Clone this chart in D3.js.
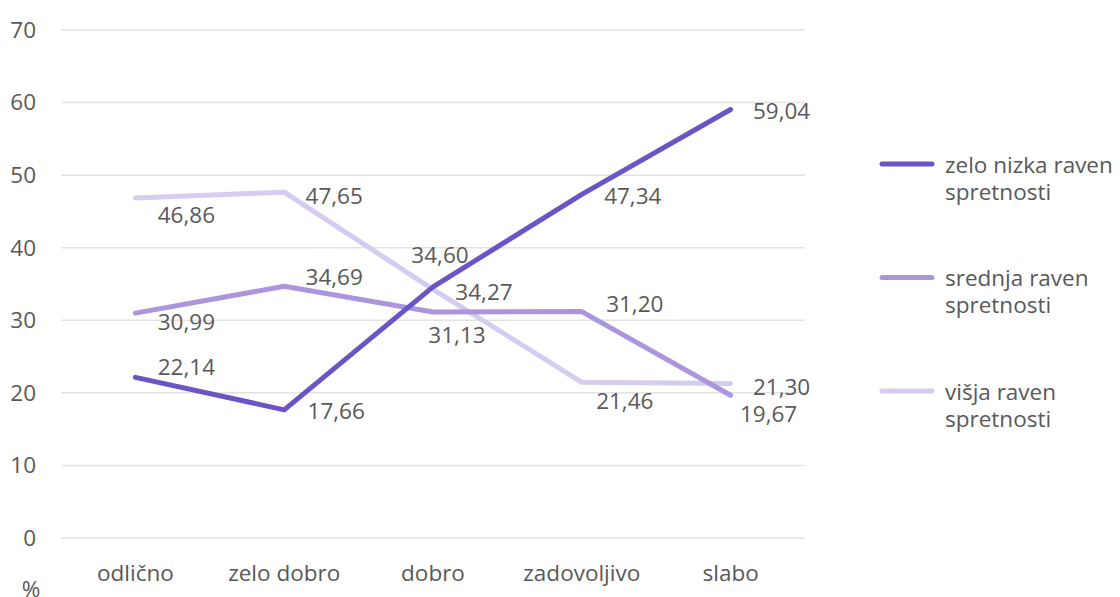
<!DOCTYPE html>
<html>
<head>
<meta charset="utf-8">
<script src="https://cdn.jsdelivr.net/npm/d3@7"></script>
<style>
  body { margin: 0; background: #fff; }
  text { font-family: "Open Sans", sans-serif; fill: #595959; }
</style>
</head>
<body>
<div id="chart"></div>
<script>
// Data
var categories = ["odlično", "zelo dobro", "dobro", "zadovoljivo", "slabo"];
var seriesNames = [
  ["zelo nizka raven", "spretnosti"],
  ["srednja raven", "spretnosti"],
  ["višja raven", "spretnosti"]
];
var zeloNizka = [22.14, 17.66, 34.60, 47.34, 59.04];
var srednja = [30.99, 34.69, 31.13, 31.20, 19.67];
var visja = [46.86, 47.65, 34.27, 21.46, 21.30];
var yTicks = [0, 10, 20, 30, 40, 50, 60, 70];

var colors = ["#6b54c4", "#ab96dd", "#d6ccef"];
var fontSize = "22.5px";

// label offsets (dx, dy) from each point, to avoid overlaps like the original
var labelOffsets = [
  [[51, -10], [52, 1], [7, -32], [51, 2], [51, 2]],
  [[51, 9], [50, -9], [24, 23], [53, -7], [38, 19]],
  [[51, 17], [50, 4], [51, 3], [43, 19], [51, 4]]
];

var width = 1120, height = 597;
var margin = { top: 30, right: 315, bottom: 59, left: 61 };

var svg = d3.select("#chart").append("svg")
  .attr("width", width)
  .attr("height", height);

var x = d3.scaleBand()
  .domain(categories)
  .range([margin.left, width - margin.right]);

var y = d3.scaleLinear()
  .domain([0, 70])
  .range([height - margin.bottom, margin.top]);

// gridlines
svg.append("g")
  .selectAll("line")
  .data(yTicks)
  .enter()
  .append("line")
  .attr("x1", margin.left)
  .attr("x2", width - margin.right)
  .attr("y1", (d) => y(d))
  .attr("y2", (d) => y(d))
  .attr("stroke", "#e3e3e3")
  .attr("stroke-width", 1.5);

// y axis labels
svg.append("g")
  .selectAll("text")
  .data(yTicks)
  .enter()
  .append("text")
  .attr("x", 36)
  .attr("y", (d) => y(d))
  .attr("dy", "0.35em")
  .attr("text-anchor", "end")
  .attr("font-size", fontSize)
  .text((d) => d);

// x axis labels
svg.append("g")
  .selectAll("text")
  .data(categories)
  .enter()
  .append("text")
  .attr("x", (d) => x(d) + x.bandwidth() / 2)
  .attr("y", 573)
  .attr("dy", "0.35em")
  .attr("text-anchor", "middle")
  .attr("font-size", fontSize)
  .text((d) => d);

// unit label
svg.append("text")
  .attr("x", 31)
  .attr("y", 589)
  .attr("dy", "0.35em")
  .attr("text-anchor", "middle")
  .attr("font-size", fontSize)
  .text("%");

var allSeries = [zeloNizka, srednja, visja];

var line = d3.line()
  .x((d, i) => x(categories[i]) + x.bandwidth() / 2)
  .y((d) => y(d));

// draw lighter series first so the dark line sits on top
[2, 1, 0].forEach(function (s) {
  svg.append("path")
    .datum(allSeries[s])
    .attr("fill", "none")
    .attr("stroke", colors[s])
    .attr("stroke-width", 5)
    .attr("stroke-linecap", "round")
    .attr("stroke-linejoin", "round")
    .attr("d", line);
});

// value labels
var fmt = (v) => v.toFixed(2).replace(".", ",");
allSeries.forEach(function (values, s) {
  svg.append("g")
    .selectAll("text")
    .data(values)
    .enter()
    .append("text")
    .attr("x", (d, i) => x(categories[i]) + x.bandwidth() / 2 + labelOffsets[s][i][0])
    .attr("y", (d, i) => y(d) + labelOffsets[s][i][1])
    .attr("dy", "0.35em")
    .attr("text-anchor", "middle")
    .attr("font-size", fontSize)
    .text((d) => fmt(d));
});

// legend
var legend = svg.append("g").attr("transform", "translate(882, 164)");
seriesNames.forEach(function (name, s) {
  var g = legend.append("g").attr("transform", "translate(0," + s * 113.5 + ")");
  g.append("line")
    .attr("x1", 0)
    .attr("x2", 50)
    .attr("stroke", colors[s])
    .attr("stroke-width", 5)
    .attr("stroke-linecap", "round");
  g.append("text")
    .attr("x", 63)
    .attr("y", 1)
    .attr("dy", "0.35em")
    .attr("font-size", fontSize)
    .text(name[0]);
  g.append("text")
    .attr("x", 63)
    .attr("y", 28)
    .attr("dy", "0.35em")
    .attr("font-size", fontSize)
    .text(name[1]);
});
</script>
</body>
</html>
